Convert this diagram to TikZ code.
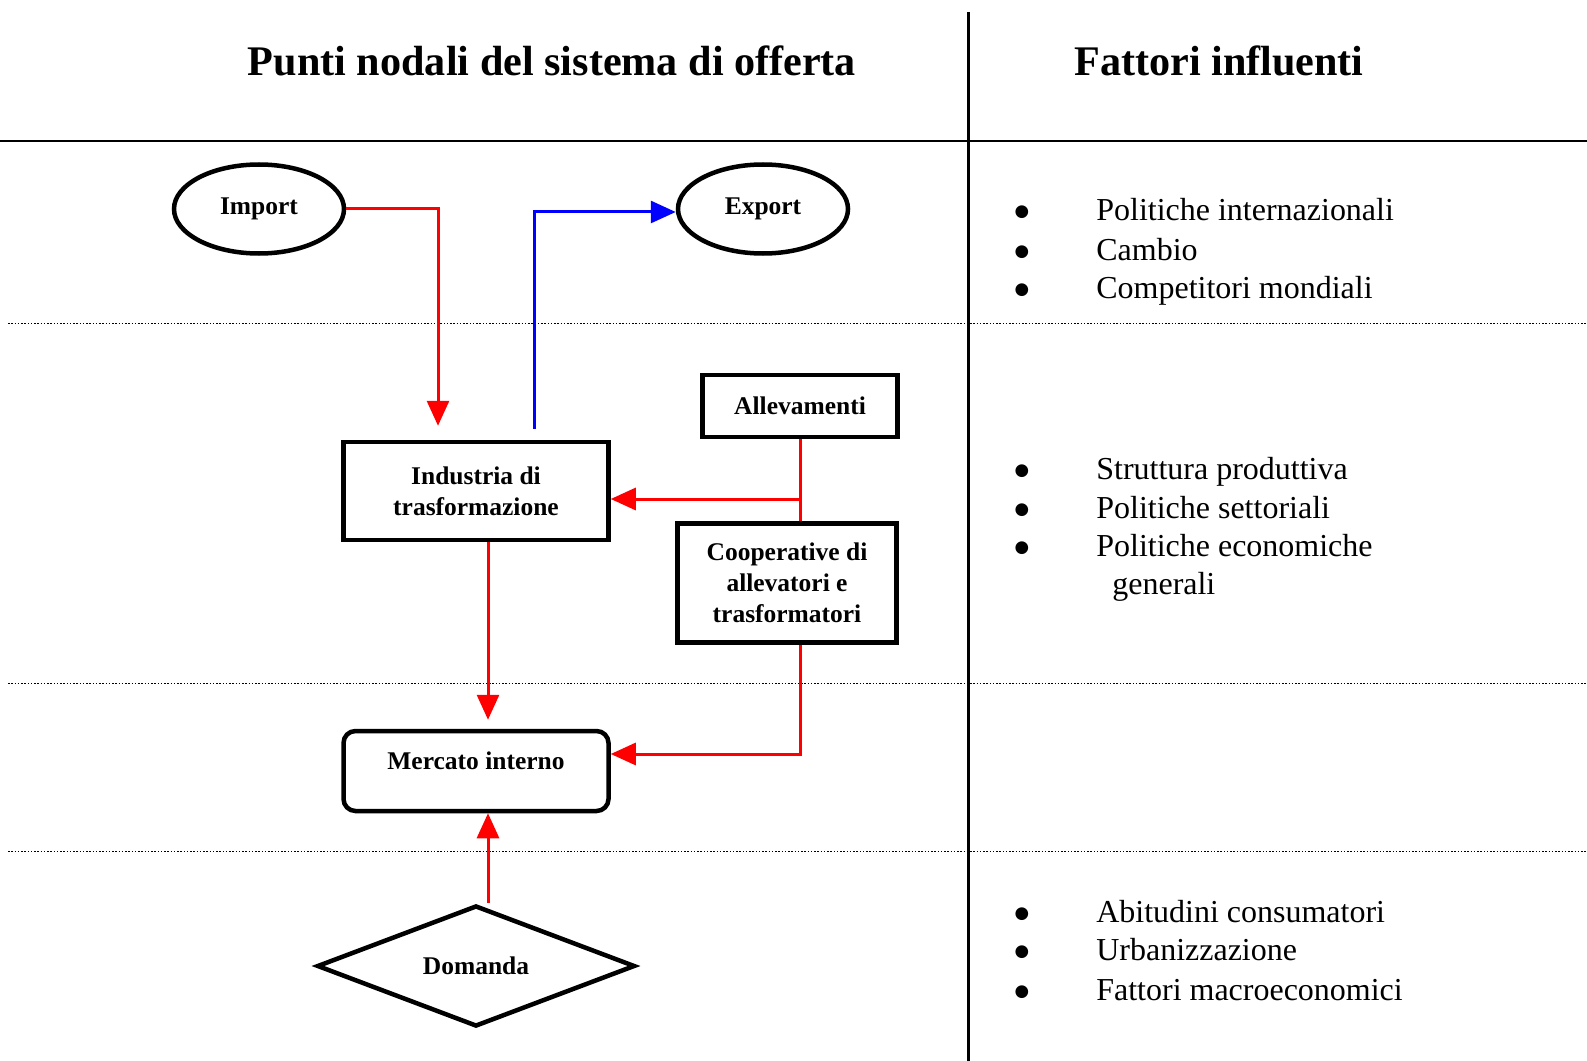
\documentclass[tikz,border=0pt]{standalone}
\usepackage{fontspec}
\setmainfont{Liberation Serif}
\newfontfamily\symfont{DejaVu Sans}
\usetikzlibrary{arrows.meta,shapes.geometric,calc}
\definecolor{flowRed}{HTML}{FF0000}
\definecolor{flowBlue}{HTML}{0000FF}
\tikzset{
  box/.style  ={draw, align=center, line width=0.9mm, inner sep=2pt,
                font=\fontsize{14.5}{17.5}\selectfont\bfseries},
  oval/.style ={box, ellipse, minimum width=34mm, minimum height=17.8mm},
  rbox/.style ={box, rounded corners=2.4mm},
  dia/.style  ={box, diamond, aspect=2.6, inner sep=0pt, minimum width=63.6mm, minimum height=24.2mm},
  arr/.style  ={-{Triangle[length=5mm, width=4.4mm]}, line width=0.6mm},
  rarr/.style ={arr, color=flowRed},
  barr/.style ={arr, color=flowBlue},
  rline/.style={line width=0.6mm, color=flowRed},
  head/.style ={font=\fontsize{24}{28}\selectfont\bfseries},
  fact/.style ={anchor=west, inner sep=0pt, text height=12pt, text depth=0pt,
                font=\fontsize{18.2}{21}\selectfont},
  bul/.style  ={anchor=center, inner sep=0pt, text height=7pt, text depth=0pt,
                font=\symfont\fontsize{9.5}{10}\selectfont},
  solidsep/.style={line width=0.4mm},
  dotsep/.style  ={line width=0.2mm, dash pattern=on 0.3mm off 0.35mm},
}
\begin{document}
\begin{tikzpicture}[x=0.2mm, y=-0.2mm]
  \useasboundingbox (0,0) rectangle (1587,1061);

  % column frame
  \draw[line width=0.6mm] (968,12) -- (968,1061);
  \draw[solidsep] (0,141) -- (1587,141);
  \foreach \y in {323,683,851} \draw[dotsep] (8,\y) -- (1587,\y);

  \node[head] (tleft)  at (552,61)  {Punti nodali del sistema di offerta};
  \node[head] (tright) at (1219,61) {Fattori influenti};

  % nodes of the supply system
  \node[oval] (imp) at (259,209) {Import};
  \node[oval] (exp) at (763,209) {Export};
  \node[box, minimum width=53mm, minimum height=19.6mm]   (ind)  at (476,491) {Industria di\\trasformazione};
  \node[box, minimum width=39mm, minimum height=12.4mm]   (all)  at (800,406) {Allevamenti};
  \node[box, minimum width=43.8mm, minimum height=23.8mm] (coop) at (787,583) {Cooperative di\\allevatori e\\trasformatori};
  \node[rbox, minimum width=53mm, minimum height=16mm, text depth=4mm] (mer) at (476,771) {Mercato interno};
  \node[dia] (dom) at (476,966) {Domanda};

  % flows
  \draw[rarr, shorten >=2.8mm] (imp.east) -| ([xshift=-7.6mm]ind.north);
  \draw[barr, shorten <=2.2mm] ([xshift=11.6mm]ind.north) |- ([yshift=-0.6mm]exp.west);
  \coordinate (jn) at (800,499);
  \draw[rline] (all.south) -- (all.south |- coop.north);
  \draw[rarr] (jn) -- (jn -| ind.east);
  \draw[rarr, shorten >=1.8mm] ([xshift=2.4mm]ind.south) -- ([xshift=2.4mm]mer.north);
  \draw[rarr] ([xshift=2.6mm]coop.south) |- ([yshift=3.4mm]mer.east);
  \draw[rarr] ([xshift=2.4mm]dom.north) -- ([xshift=2.4mm]mer.south);

  % influencing factors
  \foreach \y/\t [count=\i] in {210/Politiche internazionali, 250/Cambio, 288/Competitori mondiali,
      469/Struttura produttiva, 508/Politiche settoriali, 546/Politiche economiche,
      912/Abitudini consumatori, 950/Urbanizzazione, 990/Fattori macroeconomici} {
    \node[bul]  (b\i) at (1022,\y) {●};
    \node[fact] (f\i) at (1096,\y) {\t};
  }
  \node[fact] (f6b) at (1112,584) {generali};
\end{tikzpicture}
\end{document}
